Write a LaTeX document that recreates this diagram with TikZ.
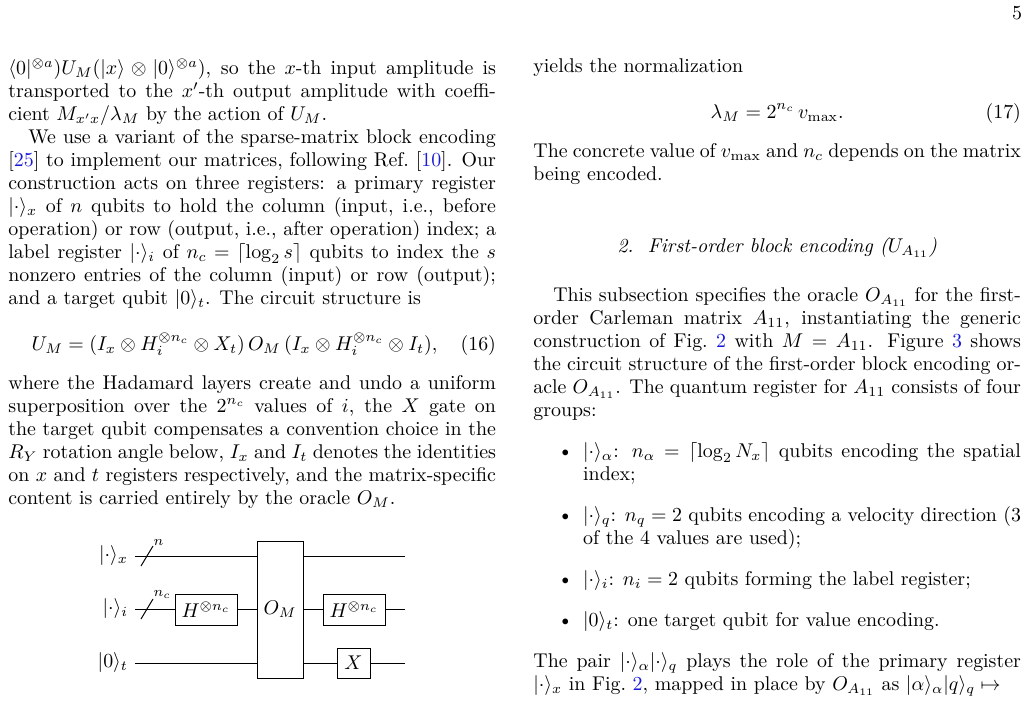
\documentclass[tikz,border=0pt]{standalone}
\usepackage{amsmath,amssymb}
\usepackage{xcolor}
\definecolor{linkblue}{rgb}{0.1,0.1,0.85}
\newcommand{\lnk}[1]{\textcolor{linkblue}{#1}}
\newcommand{\colsetup}{\fontsize{10}{11.56}\selectfont\setlength{\abovedisplayskip}{11.5pt}\setlength{\belowdisplayskip}{8pt}\setlength{\abovedisplayshortskip}{11.5pt}\setlength{\belowdisplayshortskip}{8pt}}
\begin{document}
\begin{tikzpicture}[x=0.5025pt,y=-0.5025pt,
  col/.style={anchor=north west,inner sep=0pt,text width=245pt,align=justify,font=\colsetup},
  gate/.style={draw,fill=white,inner sep=0pt,line width=0.5pt},
  wire/.style={line width=0.5pt}]
\useasboundingbox (0,0) rectangle (1029,705);
\node[anchor=base,inner sep=0pt] (pg) at (1017,20) {\fontsize{10}{12}\selectfont 5};
\node[col] (lc) at (8,58) {%
$\langle 0|^{\otimes a})U_M(|x\rangle\otimes|0\rangle^{\otimes a})$, so the $x$-th input amplitude is transported to the $x'$-th output amplitude with coefficient $M_{x'x}/\lambda_M$ by the action of $U_M$.\par
\hspace*{1em}We use a variant of the sparse-matrix block encoding [\lnk{25}] to implement our matrices, following Ref.~[\lnk{10}]. Our construction acts on three registers: a primary register $|\cdot\rangle_x$ of $n$ qubits to hold the column (input, i.e., before operation) or row (output, i.e., after operation) index; a label register $|\cdot\rangle_i$ of $n_c=\lceil\log_2 s\rceil$ qubits to index the $s$ nonzero entries of the column (input) or row (output); and a target qubit $|0\rangle_t$. The circuit structure is
\begin{equation}\tag{16}
U_M=(I_x\otimes H_i^{\otimes n_c}\otimes X_t)\,O_M\,(I_x\otimes H_i^{\otimes n_c}\otimes I_t),
\end{equation}
where the Hadamard layers create and undo a uniform superposition over the $2^{n_c}$ values of $i$, the $X$ gate on the target qubit compensates a convention choice in the $R_Y$ rotation angle below, $I_x$ and $I_t$ denotes the identities on $x$ and $t$ registers respectively, and the matrix-specific content is carried entirely by the oracle $O_M$.\par};
\node[col] (rc) at (533,58) {%
yields the normalization
\begin{equation}\tag{17}
\lambda_M=2^{n_c}\,v_{\max}.
\end{equation}
The concrete value of $v_{\max}$ and $n_c$ depends on the matrix being encoded.\par
\vspace{25pt}
{\centering\textit{2.\ \ First-order block encoding ($U_{A_{11}}$)}\par}
\vspace{13pt}
\hspace*{1em}This subsection specifies the oracle $O_{A_{11}}$ for the first-order Carleman matrix $A_{11}$, instantiating the generic construction of Fig.~\lnk{2} with $M=A_{11}$. Figure~\lnk{3} shows the circuit structure of the first-order block encoding oracle $O_{A_{11}}$. The quantum register for $A_{11}$ consists of four groups:
\begin{list}{\textbullet}{\setlength{\leftmargin}{25pt}\setlength{\labelwidth}{15pt}\setlength{\labelsep}{5pt}\setlength{\topsep}{9pt}\setlength{\partopsep}{0pt}\setlength{\itemsep}{9pt}\setlength{\parsep}{0pt}}
\item $|\cdot\rangle_\alpha$: $n_\alpha=\lceil\log_2 N_x\rceil$ qubits encoding the spatial index;
\item $|\cdot\rangle_q$: $n_q=2$ qubits encoding a velocity direction (3 of the 4 values are used);
\item $|\cdot\rangle_i$: $n_i=2$ qubits forming the label register;
\item $|0\rangle_t$: one target qubit for value encoding.
\end{list}
\noindent The pair $|\cdot\rangle_\alpha|\cdot\rangle_q$ plays the role of the primary register $|\cdot\rangle_x$ in Fig.~\lnk{2}, mapped in place by $O_{A_{11}}$ as $|\alpha\rangle_\alpha|q\rangle_q\mapsto$\par};
% circuit
\coordinate (xs) at (135,556); \coordinate (xe) at (405,556);
\coordinate (is) at (135,609); \coordinate (ie) at (405,609);
\coordinate (ts) at (135,663); \coordinate (te) at (405,663);
\draw[wire] (xs) -- (xe);
\draw[wire] (is) -- (ie);
\draw[wire] (ts) -- (te);
\node[anchor=east] (lx) at (xs) {$|\cdot\rangle_x$};
\node[anchor=east] (li) at (is) {$|\cdot\rangle_i$};
\node[anchor=east] (lt) at (ts) {$|0\rangle_t$};
\draw[wire] (141,566) -- (153,546) node[anchor=south west,inner sep=0pt,font=\scriptsize] (sn) {$n$};
\draw[wire] (141,619) -- (153,599) node[anchor=south west,inner sep=0pt,font=\scriptsize] (snc) {$n_c$};
\draw[gate] (175,594) rectangle (237,625);
\node (h1) at (206,609.5) {$H^{\otimes n_c}$};
\draw[gate] (257,541) rectangle (303,678);
\node (om) at (280,609.5) {$O_M$};
\draw[gate] (323,594) rectangle (385,625);
\node (h2) at (354,609.5) {$H^{\otimes n_c}$};
\draw[gate] (337,648) rectangle (370,678);
\node (xg) at (353.5,663) {$X$};
\end{tikzpicture}
\end{document}
